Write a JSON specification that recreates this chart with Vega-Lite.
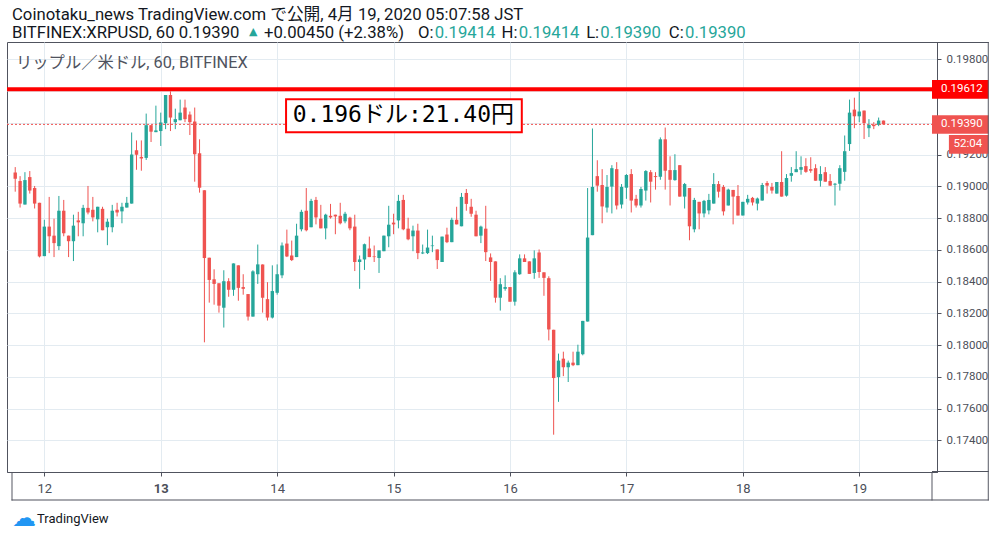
{
  "$schema": "https://vega.github.io/schema/vega-lite/v6.json",
  "width": 930,
  "height": 430,
  "autosize": "none",
  "padding": {"left": 7, "top": 42, "right": 65, "bottom": 65},
  "background": "white",
  "config": {
    "view": {"stroke": "#50535e", "strokeWidth": 1},
    "axis": {
      "domainColor": "#50535e",
      "tickColor": "#50535e",
      "labelColor": "#4c4f59",
      "labelFont": "Roboto",
      "gridColor": "#e3ebf1",
      "labelOverlap": false,
      "title": null
    }
  },
  "data": {"values": [{}]},
  "datasets": {
    "candles": [
      {"t": "2020-04-11T18:00", "o": 0.19087, "h": 0.19121, "l": 0.18966, "c": 0.19048},
      {"t": "2020-04-11T19:00", "o": 0.19033, "h": 0.19064, "l": 0.18866, "c": 0.18891},
      {"t": "2020-04-11T20:00", "o": 0.18885, "h": 0.19089, "l": 0.18885, "c": 0.19039},
      {"t": "2020-04-11T21:00", "o": 0.19058, "h": 0.19096, "l": 0.18954, "c": 0.18973},
      {"t": "2020-04-11T22:00", "o": 0.18989, "h": 0.19002, "l": 0.18860, "c": 0.18891},
      {"t": "2020-04-11T23:00", "o": 0.18896, "h": 0.18896, "l": 0.18552, "c": 0.18558},
      {"t": "2020-04-12T00:00", "o": 0.18560, "h": 0.18789, "l": 0.18560, "c": 0.18746},
      {"t": "2020-04-12T01:00", "o": 0.18746, "h": 0.18933, "l": 0.18579, "c": 0.18685},
      {"t": "2020-04-12T02:00", "o": 0.18689, "h": 0.18796, "l": 0.18554, "c": 0.18642},
      {"t": "2020-04-12T03:00", "o": 0.18623, "h": 0.18939, "l": 0.18598, "c": 0.18846},
      {"t": "2020-04-12T04:00", "o": 0.18846, "h": 0.18914, "l": 0.18685, "c": 0.18704},
      {"t": "2020-04-12T05:00", "o": 0.18689, "h": 0.18689, "l": 0.18554, "c": 0.18654},
      {"t": "2020-04-12T06:00", "o": 0.18654, "h": 0.18821, "l": 0.18529, "c": 0.18752},
      {"t": "2020-04-12T07:00", "o": 0.18785, "h": 0.18839, "l": 0.18685, "c": 0.18773},
      {"t": "2020-04-12T08:00", "o": 0.18767, "h": 0.18883, "l": 0.18685, "c": 0.18864},
      {"t": "2020-04-12T09:00", "o": 0.18864, "h": 0.19002, "l": 0.18823, "c": 0.18835},
      {"t": "2020-04-12T10:00", "o": 0.18852, "h": 0.18933, "l": 0.18779, "c": 0.18804},
      {"t": "2020-04-12T11:00", "o": 0.18792, "h": 0.18871, "l": 0.18710, "c": 0.18871},
      {"t": "2020-04-12T12:00", "o": 0.18858, "h": 0.18871, "l": 0.18723, "c": 0.18723},
      {"t": "2020-04-12T13:00", "o": 0.18742, "h": 0.18796, "l": 0.18629, "c": 0.18777},
      {"t": "2020-04-12T14:00", "o": 0.18742, "h": 0.18883, "l": 0.18710, "c": 0.18846},
      {"t": "2020-04-12T15:00", "o": 0.18852, "h": 0.18896, "l": 0.18810, "c": 0.18835},
      {"t": "2020-04-12T16:00", "o": 0.18842, "h": 0.18896, "l": 0.18767, "c": 0.18871},
      {"t": "2020-04-12T17:00", "o": 0.18866, "h": 0.18933, "l": 0.18866, "c": 0.18896},
      {"t": "2020-04-12T18:00", "o": 0.18891, "h": 0.19339, "l": 0.18891, "c": 0.19200},
      {"t": "2020-04-12T19:00", "o": 0.19227, "h": 0.19289, "l": 0.19104, "c": 0.19198},
      {"t": "2020-04-12T20:00", "o": 0.19185, "h": 0.19289, "l": 0.19098, "c": 0.19175},
      {"t": "2020-04-12T21:00", "o": 0.19179, "h": 0.19458, "l": 0.19166, "c": 0.19385},
      {"t": "2020-04-12T22:00", "o": 0.19385, "h": 0.19385, "l": 0.19279, "c": 0.19344},
      {"t": "2020-04-12T23:00", "o": 0.19341, "h": 0.19508, "l": 0.19341, "c": 0.19352},
      {"t": "2020-04-13T00:00", "o": 0.19348, "h": 0.19464, "l": 0.19254, "c": 0.19402},
      {"t": "2020-04-13T01:00", "o": 0.19398, "h": 0.19575, "l": 0.19360, "c": 0.19575},
      {"t": "2020-04-13T02:00", "o": 0.19575, "h": 0.19598, "l": 0.19348, "c": 0.19433},
      {"t": "2020-04-13T03:00", "o": 0.19404, "h": 0.19489, "l": 0.19360, "c": 0.19423},
      {"t": "2020-04-13T04:00", "o": 0.19416, "h": 0.19546, "l": 0.19416, "c": 0.19464},
      {"t": "2020-04-13T05:00", "o": 0.19496, "h": 0.19546, "l": 0.19404, "c": 0.19423},
      {"t": "2020-04-13T06:00", "o": 0.19452, "h": 0.19471, "l": 0.19323, "c": 0.19404},
      {"t": "2020-04-13T07:00", "o": 0.19408, "h": 0.19496, "l": 0.19029, "c": 0.19202},
      {"t": "2020-04-13T08:00", "o": 0.19208, "h": 0.19296, "l": 0.18960, "c": 0.18991},
      {"t": "2020-04-13T09:00", "o": 0.18975, "h": 0.18975, "l": 0.18017, "c": 0.18548},
      {"t": "2020-04-13T10:00", "o": 0.18550, "h": 0.18550, "l": 0.18267, "c": 0.18410},
      {"t": "2020-04-13T11:00", "o": 0.18414, "h": 0.18477, "l": 0.18254, "c": 0.18385},
      {"t": "2020-04-13T12:00", "o": 0.18389, "h": 0.18389, "l": 0.18204, "c": 0.18248},
      {"t": "2020-04-13T13:00", "o": 0.18235, "h": 0.18471, "l": 0.18110, "c": 0.18402},
      {"t": "2020-04-13T14:00", "o": 0.18402, "h": 0.18421, "l": 0.18304, "c": 0.18348},
      {"t": "2020-04-13T15:00", "o": 0.18348, "h": 0.18514, "l": 0.18310, "c": 0.18514},
      {"t": "2020-04-13T16:00", "o": 0.18502, "h": 0.18502, "l": 0.18279, "c": 0.18360},
      {"t": "2020-04-13T17:00", "o": 0.18365, "h": 0.18446, "l": 0.18317, "c": 0.18354},
      {"t": "2020-04-13T18:00", "o": 0.18321, "h": 0.18321, "l": 0.18154, "c": 0.18179},
      {"t": "2020-04-13T19:00", "o": 0.18179, "h": 0.18471, "l": 0.18179, "c": 0.18464},
      {"t": "2020-04-13T20:00", "o": 0.18446, "h": 0.18633, "l": 0.18385, "c": 0.18508},
      {"t": "2020-04-13T21:00", "o": 0.18508, "h": 0.18508, "l": 0.18204, "c": 0.18298},
      {"t": "2020-04-13T22:00", "o": 0.18289, "h": 0.18396, "l": 0.18154, "c": 0.18173},
      {"t": "2020-04-13T23:00", "o": 0.18173, "h": 0.18502, "l": 0.18167, "c": 0.18340},
      {"t": "2020-04-14T00:00", "o": 0.18329, "h": 0.18508, "l": 0.18317, "c": 0.18446},
      {"t": "2020-04-14T01:00", "o": 0.18439, "h": 0.18646, "l": 0.18421, "c": 0.18627},
      {"t": "2020-04-14T02:00", "o": 0.18639, "h": 0.18727, "l": 0.18554, "c": 0.18558},
      {"t": "2020-04-14T03:00", "o": 0.18564, "h": 0.18658, "l": 0.18529, "c": 0.18535},
      {"t": "2020-04-14T04:00", "o": 0.18554, "h": 0.18764, "l": 0.18554, "c": 0.18689},
      {"t": "2020-04-14T05:00", "o": 0.18729, "h": 0.18852, "l": 0.18716, "c": 0.18839},
      {"t": "2020-04-14T06:00", "o": 0.18846, "h": 0.18989, "l": 0.18716, "c": 0.18723},
      {"t": "2020-04-14T07:00", "o": 0.18742, "h": 0.18921, "l": 0.18742, "c": 0.18908},
      {"t": "2020-04-14T08:00", "o": 0.18914, "h": 0.18933, "l": 0.18760, "c": 0.18804},
      {"t": "2020-04-14T09:00", "o": 0.18796, "h": 0.18883, "l": 0.18735, "c": 0.18735},
      {"t": "2020-04-14T10:00", "o": 0.18735, "h": 0.18827, "l": 0.18666, "c": 0.18821},
      {"t": "2020-04-14T11:00", "o": 0.18814, "h": 0.18889, "l": 0.18796, "c": 0.18804},
      {"t": "2020-04-14T12:00", "o": 0.18821, "h": 0.18821, "l": 0.18698, "c": 0.18810},
      {"t": "2020-04-14T13:00", "o": 0.18814, "h": 0.18896, "l": 0.18760, "c": 0.18767},
      {"t": "2020-04-14T14:00", "o": 0.18779, "h": 0.18839, "l": 0.18767, "c": 0.18827},
      {"t": "2020-04-14T15:00", "o": 0.18802, "h": 0.18808, "l": 0.18723, "c": 0.18735},
      {"t": "2020-04-14T16:00", "o": 0.18746, "h": 0.18821, "l": 0.18466, "c": 0.18523},
      {"t": "2020-04-14T17:00", "o": 0.18523, "h": 0.18564, "l": 0.18354, "c": 0.18539},
      {"t": "2020-04-14T18:00", "o": 0.18539, "h": 0.18639, "l": 0.18473, "c": 0.18635},
      {"t": "2020-04-14T19:00", "o": 0.18608, "h": 0.18683, "l": 0.18554, "c": 0.18554},
      {"t": "2020-04-14T20:00", "o": 0.18558, "h": 0.18627, "l": 0.18523, "c": 0.18554},
      {"t": "2020-04-14T21:00", "o": 0.18548, "h": 0.18596, "l": 0.18454, "c": 0.18596},
      {"t": "2020-04-14T22:00", "o": 0.18591, "h": 0.18689, "l": 0.18591, "c": 0.18689},
      {"t": "2020-04-14T23:00", "o": 0.18685, "h": 0.18877, "l": 0.18616, "c": 0.18758},
      {"t": "2020-04-15T00:00", "o": 0.18771, "h": 0.18827, "l": 0.18698, "c": 0.18760},
      {"t": "2020-04-15T01:00", "o": 0.18785, "h": 0.18946, "l": 0.18735, "c": 0.18908},
      {"t": "2020-04-15T02:00", "o": 0.18914, "h": 0.18946, "l": 0.18723, "c": 0.18729},
      {"t": "2020-04-15T03:00", "o": 0.18733, "h": 0.18802, "l": 0.18660, "c": 0.18666},
      {"t": "2020-04-15T04:00", "o": 0.18685, "h": 0.18752, "l": 0.18591, "c": 0.18721},
      {"t": "2020-04-15T05:00", "o": 0.18721, "h": 0.18764, "l": 0.18541, "c": 0.18579},
      {"t": "2020-04-15T06:00", "o": 0.18577, "h": 0.18633, "l": 0.18573, "c": 0.18583},
      {"t": "2020-04-15T07:00", "o": 0.18579, "h": 0.18727, "l": 0.18573, "c": 0.18614},
      {"t": "2020-04-15T08:00", "o": 0.18623, "h": 0.18689, "l": 0.18585, "c": 0.18627},
      {"t": "2020-04-15T09:00", "o": 0.18602, "h": 0.18602, "l": 0.18479, "c": 0.18535},
      {"t": "2020-04-15T10:00", "o": 0.18523, "h": 0.18683, "l": 0.18523, "c": 0.18683},
      {"t": "2020-04-15T11:00", "o": 0.18696, "h": 0.18739, "l": 0.18642, "c": 0.18648},
      {"t": "2020-04-15T12:00", "o": 0.18648, "h": 0.18802, "l": 0.18648, "c": 0.18789},
      {"t": "2020-04-15T13:00", "o": 0.18789, "h": 0.18871, "l": 0.18760, "c": 0.18760},
      {"t": "2020-04-15T14:00", "o": 0.18748, "h": 0.18958, "l": 0.18748, "c": 0.18933},
      {"t": "2020-04-15T15:00", "o": 0.18958, "h": 0.18983, "l": 0.18846, "c": 0.18889},
      {"t": "2020-04-15T16:00", "o": 0.18871, "h": 0.18921, "l": 0.18808, "c": 0.18827},
      {"t": "2020-04-15T17:00", "o": 0.18821, "h": 0.18846, "l": 0.18685, "c": 0.18685},
      {"t": "2020-04-15T18:00", "o": 0.18689, "h": 0.18752, "l": 0.18642, "c": 0.18746},
      {"t": "2020-04-15T19:00", "o": 0.18733, "h": 0.18877, "l": 0.18529, "c": 0.18585},
      {"t": "2020-04-15T20:00", "o": 0.18552, "h": 0.18577, "l": 0.18404, "c": 0.18523},
      {"t": "2020-04-15T21:00", "o": 0.18527, "h": 0.18527, "l": 0.18267, "c": 0.18298},
      {"t": "2020-04-15T22:00", "o": 0.18298, "h": 0.18421, "l": 0.18217, "c": 0.18383},
      {"t": "2020-04-15T23:00", "o": 0.18354, "h": 0.18439, "l": 0.18342, "c": 0.18365},
      {"t": "2020-04-16T00:00", "o": 0.18365, "h": 0.18365, "l": 0.18273, "c": 0.18273},
      {"t": "2020-04-16T01:00", "o": 0.18273, "h": 0.18471, "l": 0.18248, "c": 0.18458},
      {"t": "2020-04-16T02:00", "o": 0.18446, "h": 0.18571, "l": 0.18442, "c": 0.18546},
      {"t": "2020-04-16T03:00", "o": 0.18546, "h": 0.18571, "l": 0.18523, "c": 0.18523},
      {"t": "2020-04-16T04:00", "o": 0.18527, "h": 0.18527, "l": 0.18448, "c": 0.18448},
      {"t": "2020-04-16T05:00", "o": 0.18454, "h": 0.18596, "l": 0.18417, "c": 0.18546},
      {"t": "2020-04-16T06:00", "o": 0.18583, "h": 0.18602, "l": 0.18423, "c": 0.18460},
      {"t": "2020-04-16T07:00", "o": 0.18458, "h": 0.18458, "l": 0.18310, "c": 0.18423},
      {"t": "2020-04-16T08:00", "o": 0.18421, "h": 0.18433, "l": 0.18029, "c": 0.18098},
      {"t": "2020-04-16T09:00", "o": 0.18096, "h": 0.18096, "l": 0.17435, "c": 0.17792},
      {"t": "2020-04-16T10:00", "o": 0.17798, "h": 0.17946, "l": 0.17642, "c": 0.17902},
      {"t": "2020-04-16T11:00", "o": 0.17914, "h": 0.17958, "l": 0.17804, "c": 0.17860},
      {"t": "2020-04-16T12:00", "o": 0.17860, "h": 0.17902, "l": 0.17767, "c": 0.17889},
      {"t": "2020-04-16T13:00", "o": 0.17889, "h": 0.17958, "l": 0.17867, "c": 0.17873},
      {"t": "2020-04-16T14:00", "o": 0.17873, "h": 0.18002, "l": 0.17873, "c": 0.17958},
      {"t": "2020-04-16T15:00", "o": 0.17942, "h": 0.18152, "l": 0.17935, "c": 0.18152},
      {"t": "2020-04-16T16:00", "o": 0.18148, "h": 0.18989, "l": 0.18148, "c": 0.18677},
      {"t": "2020-04-16T17:00", "o": 0.18692, "h": 0.19364, "l": 0.18692, "c": 0.18996},
      {"t": "2020-04-16T18:00", "o": 0.19064, "h": 0.19164, "l": 0.18966, "c": 0.19004},
      {"t": "2020-04-16T19:00", "o": 0.19008, "h": 0.19108, "l": 0.18767, "c": 0.18873},
      {"t": "2020-04-16T20:00", "o": 0.18866, "h": 0.19071, "l": 0.18835, "c": 0.18996},
      {"t": "2020-04-16T21:00", "o": 0.18998, "h": 0.19133, "l": 0.18829, "c": 0.19114},
      {"t": "2020-04-16T22:00", "o": 0.19108, "h": 0.19152, "l": 0.18854, "c": 0.18879},
      {"t": "2020-04-16T23:00", "o": 0.18885, "h": 0.19014, "l": 0.18860, "c": 0.18996},
      {"t": "2020-04-17T00:00", "o": 0.18991, "h": 0.19077, "l": 0.18921, "c": 0.19071},
      {"t": "2020-04-17T01:00", "o": 0.19077, "h": 0.19108, "l": 0.18835, "c": 0.18910},
      {"t": "2020-04-17T02:00", "o": 0.18921, "h": 0.18946, "l": 0.18866, "c": 0.18879},
      {"t": "2020-04-17T03:00", "o": 0.18879, "h": 0.18996, "l": 0.18866, "c": 0.18983},
      {"t": "2020-04-17T04:00", "o": 0.18973, "h": 0.19102, "l": 0.18910, "c": 0.19096},
      {"t": "2020-04-17T05:00", "o": 0.19089, "h": 0.19102, "l": 0.18898, "c": 0.19029},
      {"t": "2020-04-17T06:00", "o": 0.19064, "h": 0.19089, "l": 0.18979, "c": 0.19058},
      {"t": "2020-04-17T07:00", "o": 0.19060, "h": 0.19308, "l": 0.19041, "c": 0.19296},
      {"t": "2020-04-17T08:00", "o": 0.19296, "h": 0.19370, "l": 0.18979, "c": 0.19098},
      {"t": "2020-04-17T09:00", "o": 0.19102, "h": 0.19189, "l": 0.18879, "c": 0.19041},
      {"t": "2020-04-17T10:00", "o": 0.19039, "h": 0.19202, "l": 0.19035, "c": 0.19102},
      {"t": "2020-04-17T11:00", "o": 0.19133, "h": 0.19133, "l": 0.18935, "c": 0.18935},
      {"t": "2020-04-17T12:00", "o": 0.18935, "h": 0.19021, "l": 0.18860, "c": 0.19014},
      {"t": "2020-04-17T13:00", "o": 0.18989, "h": 0.18989, "l": 0.18660, "c": 0.18748},
      {"t": "2020-04-17T14:00", "o": 0.18729, "h": 0.18927, "l": 0.18710, "c": 0.18914},
      {"t": "2020-04-17T15:00", "o": 0.18902, "h": 0.18902, "l": 0.18729, "c": 0.18829},
      {"t": "2020-04-17T16:00", "o": 0.18829, "h": 0.18914, "l": 0.18804, "c": 0.18908},
      {"t": "2020-04-17T17:00", "o": 0.18848, "h": 0.18952, "l": 0.18823, "c": 0.18914},
      {"t": "2020-04-17T18:00", "o": 0.18891, "h": 0.19083, "l": 0.18891, "c": 0.19014},
      {"t": "2020-04-17T19:00", "o": 0.19014, "h": 0.19033, "l": 0.18929, "c": 0.18966},
      {"t": "2020-04-17T20:00", "o": 0.18996, "h": 0.19008, "l": 0.18816, "c": 0.18842},
      {"t": "2020-04-17T21:00", "o": 0.18879, "h": 0.18985, "l": 0.18879, "c": 0.18979},
      {"t": "2020-04-17T22:00", "o": 0.18977, "h": 0.18977, "l": 0.18760, "c": 0.18935},
      {"t": "2020-04-17T23:00", "o": 0.18939, "h": 0.19008, "l": 0.18816, "c": 0.18816},
      {"t": "2020-04-18T00:00", "o": 0.18816, "h": 0.18902, "l": 0.18816, "c": 0.18902},
      {"t": "2020-04-18T01:00", "o": 0.18898, "h": 0.18946, "l": 0.18885, "c": 0.18921},
      {"t": "2020-04-18T02:00", "o": 0.18927, "h": 0.18933, "l": 0.18879, "c": 0.18898},
      {"t": "2020-04-18T03:00", "o": 0.18891, "h": 0.18929, "l": 0.18848, "c": 0.18923},
      {"t": "2020-04-18T04:00", "o": 0.18910, "h": 0.19021, "l": 0.18910, "c": 0.19008},
      {"t": "2020-04-18T05:00", "o": 0.19021, "h": 0.19033, "l": 0.18954, "c": 0.19004},
      {"t": "2020-04-18T06:00", "o": 0.18996, "h": 0.19021, "l": 0.18954, "c": 0.18973},
      {"t": "2020-04-18T07:00", "o": 0.18954, "h": 0.19027, "l": 0.18954, "c": 0.19027},
      {"t": "2020-04-18T08:00", "o": 0.19027, "h": 0.19221, "l": 0.18935, "c": 0.18935},
      {"t": "2020-04-18T09:00", "o": 0.18941, "h": 0.19077, "l": 0.18935, "c": 0.19052},
      {"t": "2020-04-18T10:00", "o": 0.19066, "h": 0.19121, "l": 0.19029, "c": 0.19083},
      {"t": "2020-04-18T11:00", "o": 0.19089, "h": 0.19221, "l": 0.19089, "c": 0.19108},
      {"t": "2020-04-18T12:00", "o": 0.19104, "h": 0.19189, "l": 0.19073, "c": 0.19121},
      {"t": "2020-04-18T13:00", "o": 0.19127, "h": 0.19177, "l": 0.19085, "c": 0.19091},
      {"t": "2020-04-18T14:00", "o": 0.19108, "h": 0.19183, "l": 0.19085, "c": 0.19098},
      {"t": "2020-04-18T15:00", "o": 0.19114, "h": 0.19139, "l": 0.19035, "c": 0.19035},
      {"t": "2020-04-18T16:00", "o": 0.19035, "h": 0.19127, "l": 0.18998, "c": 0.19077},
      {"t": "2020-04-18T17:00", "o": 0.19089, "h": 0.19121, "l": 0.19029, "c": 0.19029},
      {"t": "2020-04-18T18:00", "o": 0.19033, "h": 0.19077, "l": 0.19004, "c": 0.19004},
      {"t": "2020-04-18T19:00", "o": 0.19010, "h": 0.19021, "l": 0.18879, "c": 0.19016},
      {"t": "2020-04-18T20:00", "o": 0.19016, "h": 0.19133, "l": 0.18973, "c": 0.19114},
      {"t": "2020-04-18T21:00", "o": 0.19091, "h": 0.19320, "l": 0.19035, "c": 0.19221},
      {"t": "2020-04-18T22:00", "o": 0.19266, "h": 0.19546, "l": 0.19223, "c": 0.19464},
      {"t": "2020-04-18T23:00", "o": 0.19483, "h": 0.19558, "l": 0.19366, "c": 0.19441},
      {"t": "2020-04-19T00:00", "o": 0.19441, "h": 0.19596, "l": 0.19404, "c": 0.19471},
      {"t": "2020-04-19T01:00", "o": 0.19477, "h": 0.19477, "l": 0.19298, "c": 0.19398},
      {"t": "2020-04-19T02:00", "o": 0.19366, "h": 0.19423, "l": 0.19310, "c": 0.19387},
      {"t": "2020-04-19T03:00", "o": 0.19387, "h": 0.19404, "l": 0.19360, "c": 0.19379},
      {"t": "2020-04-19T04:00", "o": 0.19387, "h": 0.19433, "l": 0.19379, "c": 0.19414},
      {"t": "2020-04-19T05:00", "o": 0.19414, "h": 0.19414, "l": 0.19390, "c": 0.19390}
    ]
  },
  "layer": [
    {
      "data": {"name": "candles"},
      "mark": {"type": "rule", "strokeWidth": 1},
      "encoding": {
        "x": {
          "field": "t",
          "type": "temporal",
          "scale": {
            "domain": [
              {"year": 2020, "month": 4, "date": 11, "hours": 17, "minutes": 20},
              {"year": 2020, "month": 4, "date": 19, "hours": 15}
            ]
          },
          "axis": {
            "orient": "bottom",
            "values": [
              {"year": 2020, "month": 4, "date": 12},
              {"year": 2020, "month": 4, "date": 13},
              {"year": 2020, "month": 4, "date": 14},
              {"year": 2020, "month": 4, "date": 15},
              {"year": 2020, "month": 4, "date": 16},
              {"year": 2020, "month": 4, "date": 17},
              {"year": 2020, "month": 4, "date": 18},
              {"year": 2020, "month": 4, "date": 19}
            ],
            "tickCount": 30,
            "format": "%-d",
            "grid": true,
            "tickSize": 4,
            "labelPadding": 6,
            "labelFontSize": 13,
            "labelOverlap": false,
            "labelFontWeight": {"condition": {"test": "date(datum.value) == 13", "value": "bold"}, "value": "normal"}
          }
        },
        "y": {
          "field": "l",
          "type": "quantitative",
          "scale": {"domain": [0.172, 0.19909], "nice": false, "zero": false},
          "axis": {
            "orient": "right",
            "values": [0.174, 0.176, 0.178, 0.18, 0.182, 0.184, 0.186, 0.188, 0.19, 0.192, 0.194, 0.196, 0.198],
            "tickCount": 30,
            "format": ".5f",
            "labelExpr": "datum.value > 0.1935 && datum.value < 0.1965 ? '' : datum.label",
            "grid": true,
            "tickSize": 4,
            "labelPadding": 5,
            "labelFontSize": 11.5,
            "labelOverlap": false,
            "labelBound": false
          }
        },
        "y2": {"field": "h"},
        "color": {
          "condition": {"test": "datum.c >= datum.o", "value": "#26a69a"},
          "value": "#ef5350"
        }
      }
    },
    {
      "data": {"name": "candles"},
      "mark": {"type": "bar", "size": 3.4},
      "encoding": {
        "x": {"field": "t", "type": "temporal"},
        "y": {"field": "o", "type": "quantitative"},
        "y2": {"field": "c"},
        "color": {
          "condition": {"test": "datum.c >= datum.o", "value": "#26a69a"},
          "value": "#ef5350"
        }
      }
    },
    {
      "mark": {"type": "rule", "color": "#ef5350", "strokeWidth": 1, "strokeDash": [2, 2]},
      "encoding": {"y": {"datum": 0.1939, "type": "quantitative"}}
    },
    {
      "mark": {"type": "rule", "color": "#ff0000", "strokeWidth": 4},
      "encoding": {"y": {"datum": 0.19612, "type": "quantitative"}}
    },
    {
      "mark": {"type": "rect", "fill": "white", "stroke": "#ff0000", "strokeWidth": 2},
      "encoding": {
        "x": {"datum": {"year": 2020, "month": 4, "date": 14, "hours": 1, "minutes": 50}, "type": "temporal"},
        "x2": {"datum": {"year": 2020, "month": 4, "date": 16, "hours": 2, "minutes": 26}},
        "y": {"datum": 0.19548, "type": "quantitative"},
        "y2": {"datum": 0.1934}
      }
    },
    {
      "mark": {"type": "text", "text": "0.196ドル:21.40円", "font": "DejaVu Sans Mono, Noto Sans CJK JP", "fontSize": 23, "color": "black", "align": "left", "baseline": "middle"},
      "encoding": {
        "x": {"datum": {"year": 2020, "month": 4, "date": 14, "hours": 3, "minutes": 12}, "type": "temporal"},
        "y": {"datum": 0.19447, "type": "quantitative"}
      }
    },
    {
      "mark": {"type": "text", "text": "リップル／米ドル, 60, BITFINEX", "font": "Roboto, Noto Sans CJK JP", "fontSize": 16.3, "color": "#50535e", "align": "left", "baseline": "middle"},
      "encoding": {
        "x": {"datum": {"year": 2020, "month": 4, "date": 11, "hours": 18, "minutes": 10}, "type": "temporal"},
        "y": {"datum": 0.19777, "type": "quantitative"}
      }
    },
    {
      "mark": {"type": "rect", "color": "#ff0000"},
      "encoding": {
        "x": {"datum": {"year": 2020, "month": 4, "date": 19, "hours": 15}, "type": "temporal"},
        "x2": {"datum": {"year": 2020, "month": 4, "date": 20, "hours": 2, "minutes": 39}},
        "y": {"datum": 0.1967, "type": "quantitative"},
        "y2": {"datum": 0.19552}
      }
    },
    {
      "mark": {"type": "rect", "color": "#ef5350"},
      "encoding": {
        "x": {"datum": {"year": 2020, "month": 4, "date": 19, "hours": 15}, "type": "temporal"},
        "x2": {"datum": {"year": 2020, "month": 4, "date": 20, "hours": 2, "minutes": 39}},
        "y": {"datum": 0.19447, "type": "quantitative"},
        "y2": {"datum": 0.19331}
      }
    },
    {
      "mark": {"type": "rect", "color": "#ef5350"},
      "encoding": {
        "x": {"datum": {"year": 2020, "month": 4, "date": 19, "hours": 18, "minutes": 29}, "type": "temporal"},
        "x2": {"datum": {"year": 2020, "month": 4, "date": 20, "hours": 2, "minutes": 39}},
        "y": {"datum": 0.19323, "type": "quantitative"},
        "y2": {"datum": 0.19205}
      }
    },
    {
      "mark": {"type": "text", "text": "0.19612", "font": "Roboto", "fontSize": 11.5, "color": "white", "align": "left", "baseline": "middle"},
      "encoding": {
        "x": {"datum": {"year": 2020, "month": 4, "date": 19, "hours": 16, "minutes": 51}, "type": "temporal"},
        "y": {"datum": 0.19612, "type": "quantitative"}
      }
    },
    {
      "mark": {"type": "text", "text": "0.19390", "font": "Roboto", "fontSize": 11.5, "color": "white", "align": "left", "baseline": "middle"},
      "encoding": {
        "x": {"datum": {"year": 2020, "month": 4, "date": 19, "hours": 16, "minutes": 51}, "type": "temporal"},
        "y": {"datum": 0.1939, "type": "quantitative"}
      }
    },
    {
      "mark": {"type": "text", "text": "52:04", "font": "Roboto", "fontSize": 11.5, "color": "white", "align": "left", "baseline": "middle"},
      "encoding": {
        "x": {"datum": {"year": 2020, "month": 4, "date": 19, "hours": 19, "minutes": 27}, "type": "temporal"},
        "y": {"datum": 0.19264, "type": "quantitative"}
      }
    },
    {
      "mark": {"type": "rect", "color": "#50535e"},
      "encoding": {
        "x": {"datum": {"year": 2020, "month": 4, "date": 20, "hours": 2, "minutes": 30}, "type": "temporal"},
        "x2": {"datum": {"year": 2020, "month": 4, "date": 20, "hours": 2, "minutes": 42}},
        "y": {"datum": 0.19909, "type": "quantitative"},
        "y2": {"datum": 0.172}
      }
    },
    {
      "mark": {"type": "rect", "color": "#50535e"},
      "encoding": {
        "x": {"datum": {"year": 2020, "month": 4, "date": 19, "hours": 15}, "type": "temporal"},
        "x2": {"datum": {"year": 2020, "month": 4, "date": 20, "hours": 2, "minutes": 42}},
        "y": {"datum": 0.19909, "type": "quantitative"},
        "y2": {"datum": 0.19903}
      }
    },
    {
      "mark": {"type": "rect", "color": "#50535e"},
      "encoding": {
        "x": {"datum": {"year": 2020, "month": 4, "date": 19, "hours": 15}, "type": "temporal"},
        "x2": {"datum": {"year": 2020, "month": 4, "date": 20, "hours": 2, "minutes": 42}},
        "y": {"datum": 0.172063, "type": "quantitative"},
        "y2": {"datum": 0.172}
      }
    },
    {
      "mark": {"type": "rect", "color": "#50535e"},
      "encoding": {
        "x": {"datum": {"year": 2020, "month": 4, "date": 20, "hours": 2, "minutes": 30}, "type": "temporal"},
        "x2": {"datum": {"year": 2020, "month": 4, "date": 20, "hours": 2, "minutes": 42}},
        "y": {"datum": 0.172, "type": "quantitative"},
        "y2": {"datum": 0.170205}
      }
    },
    {
      "mark": {"type": "rect", "color": "#50535e"},
      "encoding": {
        "x": {"datum": {"year": 2020, "month": 4, "date": 11, "hours": 17, "minutes": 14}, "type": "temporal"},
        "x2": {"datum": {"year": 2020, "month": 4, "date": 20, "hours": 2, "minutes": 42}},
        "y": {"datum": 0.170268, "type": "quantitative"},
        "y2": {"datum": 0.170205}
      }
    },
    {
      "mark": {"type": "rect", "color": "#50535e"},
      "encoding": {
        "x": {"datum": {"year": 2020, "month": 4, "date": 11, "hours": 17, "minutes": 14}, "type": "temporal"},
        "x2": {"datum": {"year": 2020, "month": 4, "date": 11, "hours": 17, "minutes": 26}},
        "y": {"datum": 0.172, "type": "quantitative"},
        "y2": {"datum": 0.170205}
      }
    },
    {
      "mark": {"type": "rect", "color": "#50535e"},
      "encoding": {
        "x": {"datum": {"year": 2020, "month": 4, "date": 19, "hours": 14, "minutes": 54}, "type": "temporal"},
        "x2": {"datum": {"year": 2020, "month": 4, "date": 19, "hours": 15, "minutes": 6}},
        "y": {"datum": 0.172, "type": "quantitative"},
        "y2": {"datum": 0.170205}
      }
    },
    {
      "mark": {"type": "text", "text": "Coinotaku_news TradingView.com で公開, 4月 19, 2020 05:07:58 JST", "font": "Roboto, Noto Sans CJK JP", "fontSize": 16.7, "color": "#131722", "align": "left", "baseline": "middle"},
      "encoding": {
        "x": {"datum": {"year": 2020, "month": 4, "date": 11, "hours": 17, "minutes": 20}, "type": "temporal"},
        "y": {"datum": 0.20078, "type": "quantitative"}
      }
    },
    {
      "mark": {"type": "text", "text": "BITFINEX:XRPUSD, 60 0.19390", "font": "Roboto", "fontSize": 16.7, "color": "#131722", "align": "left", "baseline": "middle"},
      "encoding": {
        "x": {"datum": {"year": 2020, "month": 4, "date": 11, "hours": 17, "minutes": 20}, "type": "temporal"},
        "y": {"datum": 0.19966, "type": "quantitative"}
      }
    },
    {
      "mark": {"type": "text", "text": "▲", "font": "DejaVu Sans", "fontSize": 11, "color": "#26a69a", "align": "left", "baseline": "middle"},
      "encoding": {
        "x": {"datum": {"year": 2020, "month": 4, "date": 13, "hours": 18, "minutes": 11}, "type": "temporal"},
        "y": {"datum": 0.19974, "type": "quantitative"}
      }
    },
    {
      "mark": {"type": "text", "text": "+0.00450 (+2.38%)", "font": "Roboto", "fontSize": 16.7, "color": "#131722", "align": "left", "baseline": "middle"},
      "encoding": {
        "x": {"datum": {"year": 2020, "month": 4, "date": 13, "hours": 21, "minutes": 17}, "type": "temporal"},
        "y": {"datum": 0.19966, "type": "quantitative"}
      }
    },
    {
      "mark": {"type": "text", "text": "O:", "font": "Roboto", "fontSize": 16.7, "color": "#131722", "align": "right", "baseline": "middle"},
      "encoding": {
        "x": {"datum": {"year": 2020, "month": 4, "date": 15, "hours": 8, "minutes": 13}, "type": "temporal"},
        "y": {"datum": 0.19966, "type": "quantitative"}
      }
    },
    {
      "mark": {"type": "text", "text": "0.19414", "font": "Roboto", "fontSize": 16.7, "color": "#26a69a", "align": "left", "baseline": "middle"},
      "encoding": {
        "x": {"datum": {"year": 2020, "month": 4, "date": 15, "hours": 8, "minutes": 29}, "type": "temporal"},
        "y": {"datum": 0.19966, "type": "quantitative"}
      }
    },
    {
      "mark": {"type": "text", "text": "H:", "font": "Roboto", "fontSize": 16.7, "color": "#131722", "align": "right", "baseline": "middle"},
      "encoding": {
        "x": {"datum": {"year": 2020, "month": 4, "date": 16, "hours": 1, "minutes": 33}, "type": "temporal"},
        "y": {"datum": 0.19966, "type": "quantitative"}
      }
    },
    {
      "mark": {"type": "text", "text": "0.19414", "font": "Roboto", "fontSize": 16.7, "color": "#26a69a", "align": "left", "baseline": "middle"},
      "encoding": {
        "x": {"datum": {"year": 2020, "month": 4, "date": 16, "hours": 1, "minutes": 49}, "type": "temporal"},
        "y": {"datum": 0.19966, "type": "quantitative"}
      }
    },
    {
      "mark": {"type": "text", "text": "L:", "font": "Roboto", "fontSize": 16.7, "color": "#131722", "align": "right", "baseline": "middle"},
      "encoding": {
        "x": {"datum": {"year": 2020, "month": 4, "date": 16, "hours": 18, "minutes": 23}, "type": "temporal"},
        "y": {"datum": 0.19966, "type": "quantitative"}
      }
    },
    {
      "mark": {"type": "text", "text": "0.19390", "font": "Roboto", "fontSize": 16.7, "color": "#26a69a", "align": "left", "baseline": "middle"},
      "encoding": {
        "x": {"datum": {"year": 2020, "month": 4, "date": 16, "hours": 18, "minutes": 37}, "type": "temporal"},
        "y": {"datum": 0.19966, "type": "quantitative"}
      }
    },
    {
      "mark": {"type": "text", "text": "C:", "font": "Roboto", "fontSize": 16.7, "color": "#131722", "align": "right", "baseline": "middle"},
      "encoding": {
        "x": {"datum": {"year": 2020, "month": 4, "date": 17, "hours": 11, "minutes": 49}, "type": "temporal"},
        "y": {"datum": 0.19966, "type": "quantitative"}
      }
    },
    {
      "mark": {"type": "text", "text": "0.19390", "font": "Roboto", "fontSize": 16.7, "color": "#26a69a", "align": "left", "baseline": "middle"},
      "encoding": {
        "x": {"datum": {"year": 2020, "month": 4, "date": 17, "hours": 12, "minutes": 5}, "type": "temporal"},
        "y": {"datum": 0.19966, "type": "quantitative"}
      }
    },
    {
      "mark": {"type": "text", "text": "☁", "font": "DejaVu Sans", "fontSize": 24, "color": "#2196f3", "align": "left", "baseline": "middle"},
      "encoding": {
        "x": {"datum": {"year": 2020, "month": 4, "date": 11, "hours": 17, "minutes": 20}, "type": "temporal"},
        "y": {"datum": 0.16904, "type": "quantitative"}
      }
    },
    {
      "mark": {"type": "text", "text": "TradingView", "font": "Roboto", "fontSize": 13, "color": "#131722", "align": "left", "baseline": "middle"},
      "encoding": {
        "x": {"datum": {"year": 2020, "month": 4, "date": 11, "hours": 22, "minutes": 30}, "type": "temporal"},
        "y": {"datum": 0.16904, "type": "quantitative"}
      }
    }
  ]
}
